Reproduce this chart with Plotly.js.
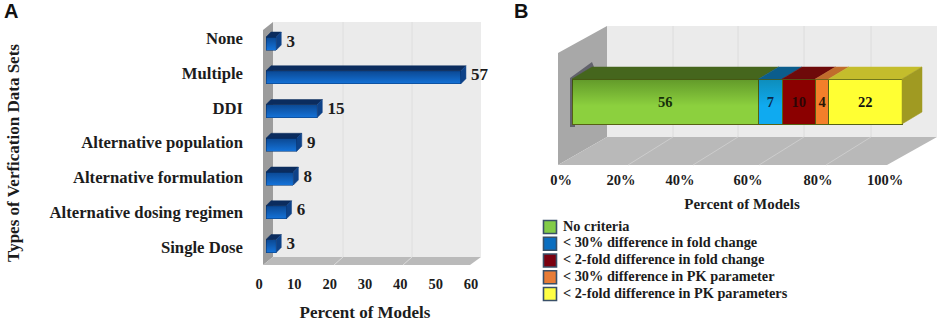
<!DOCTYPE html>
<html><head><meta charset="utf-8">
<script src="https://cdn.plot.ly/plotly-3.0.1.min.js"></script>
<style>html,body{margin:0;padding:0;background:#fff;overflow:hidden}</style>
</head><body><div id="chart" style="width:941px;height:322px"></div>
<script>
// ---- data ----
const categoriesA = ["None","Multiple","DDI","Alternative population","Alternative formulation","Alternative dosing regimen","Single Dose"];
const valuesA = [3,57,15,9,8,6,3];
const ticksA = [0,10,20,30,40,50,60];
const seriesB = ["No criteria","< 30% difference in fold change","< 2-fold difference in fold change","< 30% difference in PK parameter","< 2-fold difference in PK parameters"];
const valuesB = [56,7,10,4,22];
const tickTextB = ["0%","20%","40%","60%","80%","100%"];
const tickPosB = [0,18.5,36.7,57.7,79.3,100];
// ---- styles ----
const faceB = ["#8cd03e","#0faaf0","#8b0000","#f47f2a","#ffff33"];
const topB  = ["#45661d","#0b5d8c","#6e0a0a","#c06c2c","#c4bd2c"];
const keyB  = ["#82cc48","#0a6ec0","#7a0010","#e87c36","#ffff44"];
const shadeB = [0.32,0.22,0,0,0];
const W=941,H=322;
const serif="'Liberation Serif','Times New Roman',serif";
const ink="#1c1c1c";
const fx=p=>p/W, fy=p=>1-p/H;
const domX=(a,b)=>[fx(a),fx(b)], domY=(top,bot)=>[fy(bot),fy(top)];
const hidden=o=>Object.assign({visible:false,fixedrange:true,showgrid:false,zeroline:false},o);
const poly=(pts,fill,extra)=>Object.assign({type:'path',xref:'paper',yref:'paper',layer:'below',line:{width:0},fillcolor:fill,
  path:'M'+pts.map(p=>fx(p[0])+','+fy(p[1])).join('L')+'Z'},extra||{});
const seg=(x0,y0,x1,y1,c)=>({type:'line',xref:'paper',yref:'paper',layer:'below',x0:fx(x0),x1:fx(x1),y0:fy(y0),y1:fy(y1),line:{color:c,width:1}});
const shapes=[
  // panel A walls
  poly([[273,22],[481,22],[481,257],[273,257]],'#ebebeb'),
  poly([[263,30],[273,22],[273,257],[263,265]],'#9c9c9c'),
  poly([[263,265],[273,257],[481,257],[470,265]],'#bababa'),
  seg(343,22,343,257,'#dedede'),seg(412,22,412,257,'#dedede'),
  seg(343,257,334,265,'#dcdcdc'),seg(412,257,403,265,'#dcdcdc'),
  // panel B walls
  poly([[607,26],[937,26],[937,137],[607,137]],'#ebebeb'),
  poly([[558,53],[607,26],[607,137],[558,165]],'#a8a8a8'),
  poly([[558,165],[607,137],[937,137],[887,165]],'#b9b9b9'),
  ...[673,738,804,871].map(x=>seg(x,26,x,137,'#dcdcdc')),
  ...[673,738,804,871].map(x=>seg(x,137,x-45,165,'#cdcdcd')),
  poly([[570,78],[592,62],[594,67],[575,90],[575,127],[570,127]],'#3c3c4c',{opacity:0.65})
];
const traces=[];
// ---- panel A marks: px scale helpers ----
const aX={l:266,r:490,unit:3.42}, aY={t:25,b:265,i0:246,unit:33.75};
const aRangeX=[0,(aX.r-aX.l)/aX.unit];
const aRangeY=[-(aY.b-aY.i0)/aY.unit,(aY.i0-aY.t)/aY.unit];
const posA=categoriesA.map((c,i)=>categoriesA.length-1-i);
const hwA=6.5/aY.unit, dxA=5/aX.unit, dyA=5/aY.unit;
traces.push({type:'bar',orientation:'h',x:valuesA,y:posA,width:2*hwA,xaxis:'x',yaxis:'y',showlegend:false,hoverinfo:'x+y',
  marker:{color:'#1472d8',line:{color:'#0a3f80',width:0.6}}});
const polyTrace=(xs,ys,color,ax,ay)=>({type:'scatter',mode:'lines',x:xs,y:ys,fill:'toself',fillcolor:color,line:{color:color,width:0.5},xaxis:ax,yaxis:ay,showlegend:false,hoverinfo:'skip'});
let tx=[],ty=[],sx=[],sy=[];
valuesA.forEach((v,i)=>{const y=posA[i];
  tx.push(0,v,v+dxA,dxA,0,null);ty.push(y+hwA,y+hwA,y+hwA+dyA,y+hwA+dyA,y+hwA,null);
  sx.push(v,v+dxA,v+dxA,v,v,null);sy.push(y-hwA,y-hwA+dyA,y+hwA+dyA,y+hwA,y-hwA,null);
});
traces.push(polyTrace(tx,ty,'#0b2c5e','x','y'));
traces.push(polyTrace(sx,sy,'#0e4288','x','y'));
valuesA.forEach((v,i)=>{const y=posA[i];
  traces.push({type:'scatter',mode:'lines',x:[0,v,v,0,0],y:[y-hwA,y-hwA,y+hwA,y+hwA,y-hwA],fill:'toself',line:{width:0},xaxis:'x',yaxis:'y',showlegend:false,hoverinfo:'skip',
    fillgradient:{type:'vertical',start:y-hwA,stop:y+hwA,colorscale:[[0,'rgba(0,20,60,0)'],[1,'rgba(0,20,60,0.45)']]}});
});
traces.push({type:'scatter',mode:'text',x:valuesA.map(v=>v+dxA+1.5),y:posA.map(p=>p+0.03),text:valuesA.map(String),textposition:'middle right',cliponaxis:false,
  textfont:{family:serif,size:17,color:ink,weight:700},xaxis:'x',yaxis:'y',showlegend:false,hoverinfo:'skip'});
// panel A frame axes (tick labels and titles)
traces.push({type:'scatter',mode:'none',x:[0],y:[0],xaxis:'x2',yaxis:'y2',showlegend:false,hoverinfo:'skip'});
// ---- panel B marks ----
const total=valuesB.reduce((a,b)=>a+b,0);
const bX={l:572,r:930,unit:330/total}, bY={t:60,b:130,c:101.5,unit:45};
const bRangeX=[0,(bX.r-bX.l)/bX.unit];
const bRangeY=[-(bY.b-bY.c)/bY.unit,(bY.c-bY.t)/bY.unit];
const dxB=20/bX.unit, dyB=12/bY.unit;
const labelInk=["#17300a","#0a2a50","#2c0606","#2a1606","#111111"];
valuesB.forEach((v,i)=>{
  traces.push({type:'bar',orientation:'h',name:seriesB[i],x:[v],y:[0],width:1,xaxis:'x3',yaxis:'y3',showlegend:false,
    marker:{color:faceB[i],line:{color:'#566214',width:1}},text:[String(v)],textposition:'inside',insidetextanchor:'middle',constraintext:'none',textangle:0,
    insidetextfont:{family:serif,size:14.5,color:labelInk[i],weight:700},hoverinfo:'name+x'});
});
let cum=0;
valuesB.forEach((v,i)=>{const a=cum,b=cum+v;cum=b;
  traces.push(polyTrace([a,b,b+dxB,a+dxB,a],[.5,.5,.5+dyB,.5+dyB,.5],topB[i],'x3','y3'));
  if(shadeB[i]>0) traces.push({type:'scatter',mode:'lines',x:[a,b,b,a,a],y:[-.49,-.49,.49,.49,-.49],fill:'toself',line:{width:0},xaxis:'x3',yaxis:'y3',showlegend:false,hoverinfo:'skip',
    fillgradient:{type:'vertical',start:-.49,stop:.49,colorscale:[[0,'rgba(10,40,0,0)'],[0.4,'rgba(10,40,0,0)'],[1,'rgba(10,40,0,'+shadeB[i]+')']]}});
});
traces.push(polyTrace([total,total+dxB,total+dxB,total,total],[-.5,-.5+dyB,.5+dyB,.5,-.5],'#a09a22','x3','y3'));
traces.push({type:'scatter',mode:'none',x:[0],y:[0],xaxis:'x4',yaxis:'y4',showlegend:false,hoverinfo:'skip'});
// colour key of panel B, one row per series
const rowsB=seriesB.map((s,i)=>seriesB.length-1-i);
traces.push({type:'scatter',mode:'markers',x:seriesB.map(()=>0),y:rowsB,cliponaxis:false,
  marker:{symbol:'square',size:13,color:keyB,line:{color:'#3a5068',width:1.6}},
  xaxis:'x5',yaxis:'y5',showlegend:false,hoverinfo:'skip'});
traces.push({type:'scatter',mode:'text',x:seriesB.map(()=>13),y:rowsB,text:seriesB,textposition:'middle right',cliponaxis:false,
  textfont:{family:serif,size:14.3,color:ink,weight:700},
  xaxis:'x5',yaxis:'y5',showlegend:false,hoverinfo:'text'});
const tickFont={family:serif,size:14.5,color:ink,weight:700};
const catFont={family:serif,size:16.7,color:ink,weight:700};
const titleFont={family:serif,size:15,color:ink,weight:700};
const titleFontA={family:serif,size:17,color:ink,weight:700};
const layout={
  width:W,height:H,margin:{l:0,r:0,t:0,b:0},paper_bgcolor:'#fff',plot_bgcolor:'rgba(0,0,0,0)',barmode:'stack',shapes,showlegend:false,
  font:{family:serif,color:ink},
  xaxis:hidden({domain:domX(aX.l,aX.r),range:aRangeX,anchor:'y'}),
  yaxis:hidden({domain:domY(aY.t,aY.b),range:aRangeY,anchor:'x'}),
  xaxis2:{domain:domX(259,471),range:[0,60],anchor:'free',position:fy(273),tickvals:ticksA,ticks:'',showline:false,showgrid:false,zeroline:false,fixedrange:true,tickfont:tickFont,
    title:{text:'Percent of Models',font:titleFontA,standoff:16}},
  yaxis2:{domain:domY(38.3,267.7),range:[-0.605,6],anchor:'free',position:fx(243),tickvals:posA,ticktext:categoriesA,ticks:'',showline:false,showgrid:false,zeroline:false,fixedrange:true,tickfont:catFont,
    title:{text:'Types of Verfication Data Sets',font:titleFontA,standoff:24}},
  xaxis3:hidden({domain:domX(bX.l,bX.r),range:bRangeX,anchor:'y3'}),
  yaxis3:hidden({domain:domY(bY.t,bY.b),range:bRangeY,anchor:'x3'}),
  xaxis4:{domain:domX(561,923),range:[0,111.7],anchor:'free',position:fy(169),tickvals:tickPosB,ticktext:tickTextB,ticks:'',showline:false,showgrid:false,zeroline:false,fixedrange:true,tickfont:tickFont,
    title:{text:'Percent of Models',font:titleFont,standoff:11}},
  yaxis4:hidden({domain:domY(60,130),range:[0,1],anchor:'free',position:fx(561)}),
  xaxis5:hidden({domain:domX(550,800),range:[0,250],anchor:'y5'}),
  yaxis5:hidden({domain:domY(227,294),range:[0,4],anchor:'x5'}),
  annotations:[
    {text:'A',xref:'paper',yref:'paper',x:fx(2),y:fy(11),xanchor:'left',yanchor:'middle',showarrow:false,font:{family:"'Liberation Sans',Arial,sans-serif",size:20,color:'#111',weight:700}},
    {text:'B',xref:'paper',yref:'paper',x:fx(512),y:fy(11),xanchor:'left',yanchor:'middle',showarrow:false,font:{family:"'Liberation Sans',Arial,sans-serif",size:20,color:'#111',weight:700}}
  ]
};
Plotly.newPlot('chart',traces,layout,{displayModeBar:false,responsive:false});
</script></body></html>
